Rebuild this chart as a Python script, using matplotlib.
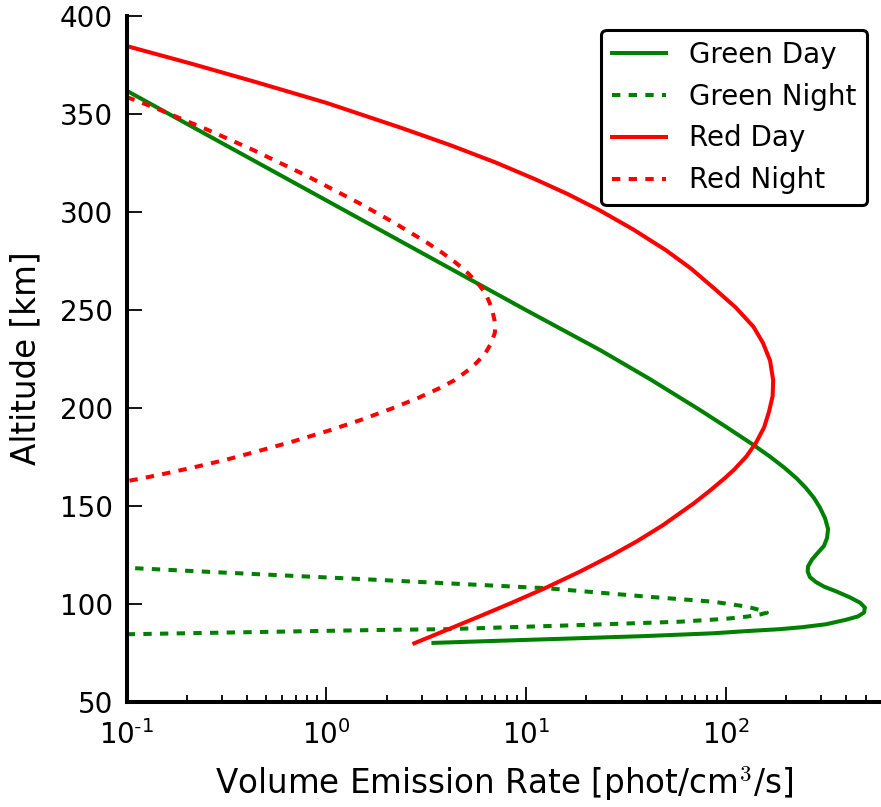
import math

import matplotlib
matplotlib.use("Agg")
import matplotlib.pyplot as plt
from matplotlib.ticker import FixedLocator, FuncFormatter, NullLocator

plt.rcParams["font.family"] = ["DejaVu Sans"]
plt.rcParams["mathtext.fontset"] = "cm"
plt.rcParams["lines.scale_dashes"] = False

# Volume emission rate profiles [phot/cm^3/s] against altitude [km]
green_day_alt = [361.7, 333.7, 305.7, 277.7, 249.7, 229.4, 214.5, 198.8, 190.2,
                 181.0, 175.0, 169.5, 164.0, 159.0, 154.0, 149.0, 143.5, 138.0,
                 133.5, 129.5, 126.0, 122.5, 119.0, 116.3, 113.5, 111.0, 108.7,
                 106.3, 103.2, 100.5, 98.0, 95.5, 93.5, 91.8, 89.5, 88.0,
                 87.0, 86.0, 84.9, 83.5, 82.4, 81.2, 80.0]
green_day_ver = [0.1, 0.316, 1.0, 3.16, 10.0, 23.4, 41.7, 74.0, 100.0,
                 137.0, 166.0, 195.0, 225.0, 251.0, 275.0, 295.0, 313.0, 324.0,
                 320.0, 309.0, 288.0, 269.0, 257.0, 256.0, 263.0, 282.0, 309.0,
                 355.0, 417.0, 468.0, 495.0, 490.0, 457.0, 398.0, 316.0, 240.0,
                 186.0, 126.0, 86.3, 39.8, 18.6, 7.94, 3.43]

green_night_alt = [84.4, 86.6, 87.0, 89.1, 90.8, 92.3, 93.4, 94.5, 95.4, 96.5,
                   98.5, 101.0, 103.6, 107.9, 110.4, 112.1, 115.8, 118.3]
green_night_ver = [0.1, 1.85, 4.0, 18.6, 58.7, 100.0, 127.0, 148.0, 160.0, 151.0,
                   127.0, 86.3, 40.1, 12.6, 4.0, 1.85, 0.316, 0.1]

red_day_alt = [384.5, 375.6, 366.3, 355.5, 342.6, 334.0, 325.0, 316.5, 309.0,
               300.9, 291.0, 280.5, 271.0, 260.0, 251.0, 241.3, 233.0, 224.0,
               214.0, 206.0, 198.0, 190.0, 182.0, 175.0, 168.5, 164.0, 157.5,
               151.2, 140.0, 132.0, 124.8, 116.3, 107.9, 100.2, 93.4, 86.2,
               79.8]
red_day_ver = [0.1, 0.209, 0.437, 1.0, 2.39, 4.15, 7.06, 11.1, 16.1,
               23.1, 34.2, 49.7, 66.7, 89.1, 112.0, 137.0, 153.0, 166.0,
               172.0, 171.0, 164.0, 155.0, 141.0, 126.0, 110.0, 98.4, 82.6,
               68.9, 48.2, 36.0, 26.9, 18.5, 12.4, 8.34, 5.79, 3.91,
               2.75]

red_night_alt = [358.5, 353.3, 342.0, 331.5, 318.5, 304.3, 294.5, 283.9, 279.0,
                 273.7, 268.5, 263.5, 258.4, 251.0, 244.7, 241.0, 238.0, 233.0,
                 227.8, 223.0, 219.2, 214.0, 209.9, 205.0, 199.7, 194.0, 188.6,
                 183.0, 177.6, 173.5, 169.9, 166.5, 164.0, 162.5]
red_night_ver = [0.1, 0.136, 0.251, 0.429, 0.789, 1.46, 2.17, 3.22, 3.80,
                 4.47, 5.12, 5.71, 6.25, 6.71, 6.93, 7.0, 6.95, 6.68,
                 6.24, 5.65, 5.13, 4.37, 3.67, 2.88, 2.14, 1.51, 1.05,
                 0.692, 0.447, 0.316, 0.224, 0.158, 0.120, 0.1]

x_ticks = [0.1, 1, 10, 100]
y_ticks = [50, 100, 150, 200, 250, 300, 350, 400]

fig = plt.figure(figsize=(8.81, 8.07), dpi=100)
ax = fig.add_axes([0.1438, 0.1305, 0.8562, 0.8501])

green = (0, 0.5, 0)
dash = (0, (6, 6))
lw = 2.9
ax.plot(green_day_ver, green_day_alt, color=green, lw=lw, label="Green Day")
ax.plot(green_night_ver, green_night_alt, color=green, lw=lw, ls=dash,
        label="Green Night")
ax.plot(red_day_ver, red_day_alt, color="red", lw=lw, label="Red Day")
ax.plot(red_night_ver, red_night_alt, color="red", lw=lw, ls=dash,
        label="Red Night")

ax.set_xscale("log")
ax.set_xlim(0.1, 596)
ax.set_ylim(50, 400)
ax.xaxis.set_major_locator(FixedLocator(x_ticks))
ax.set_yticks(y_ticks)
ax.yaxis.set_minor_locator(NullLocator())


def decade_label(value, pos):
    exponent = int(round(math.log10(value)))
    text = str(exponent).replace("-", r"\text{-}")
    return r"$\mathdefault{10^{%s}}$" % text


ax.xaxis.set_major_formatter(FuncFormatter(decade_label))

for side in ("top", "right"):
    ax.spines[side].set_visible(False)
for side in ("left", "bottom"):
    ax.spines[side].set_linewidth(2.9)

ax.tick_params(which="both", direction="in", top=False, right=False)
ax.tick_params(which="major", length=11, width=1.3, labelsize=20)
ax.tick_params(axis="y", which="major", pad=10)
ax.tick_params(axis="x", which="major", pad=13)
ax.tick_params(which="minor", length=5, width=1.3)

ax.set_xlabel("Volume Emission Rate [phot/cm$^3$/s]", fontsize=23.5, labelpad=10)
ax.set_ylabel("Altitude [km]", fontsize=23.5, labelpad=12)

leg = ax.legend(loc="upper right", fontsize=20, handlelength=1.95,
                handletextpad=0.8, labelspacing=0.5, borderpad=0.4,
                borderaxespad=0.5, fancybox=True, framealpha=1)
leg.get_frame().set_edgecolor("black")
leg.get_frame().set_linewidth(2.2)

fig.savefig("out.png", dpi=100)
